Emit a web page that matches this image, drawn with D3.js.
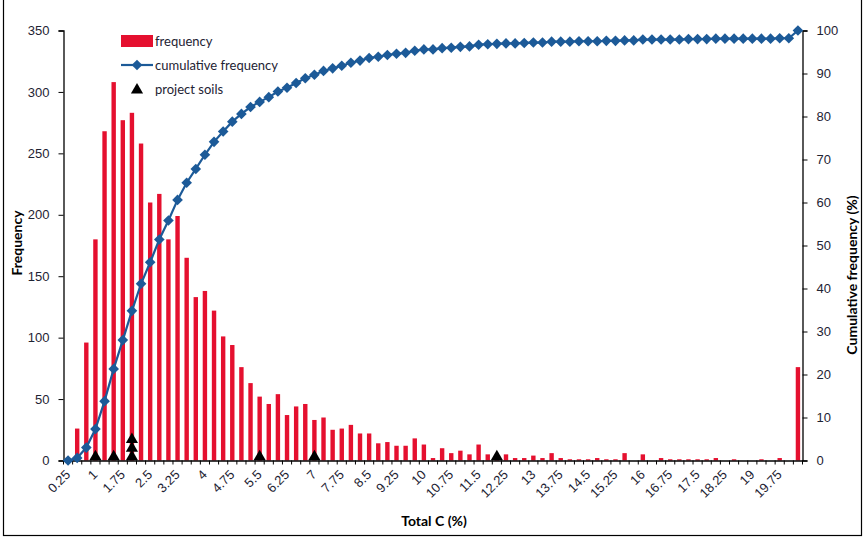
<!DOCTYPE html>
<html>
<head>
<meta charset="utf-8">
<script src="https://cdnjs.cloudflare.com/ajax/libs/d3/7.8.5/d3.min.js"></script>
<style>
  body { margin: 0; background: #fff; }
  svg { display: block; font-family: Lato, "Open Sans", sans-serif; }
</style>
</head>
<body>
<script>
// total C bins (%), last bin is the overflow bin
var bins = ['0.25','0.5','0.75','1','1.25','1.5','1.75','2','2.25','2.5','2.75','3','3.25','3.5','3.75','4',
  '4.25','4.5','4.75','5','5.25','5.5','5.75','6','6.25','6.5','6.75','7','7.25','7.5','7.75','8',
  '8.25','8.5','8.75','9','9.25','9.5','9.75','10','10.25','10.5','10.75','11','11.25','11.5','11.75','12',
  '12.25','12.5','12.75','13','13.25','13.5','13.75','14','14.25','14.5','14.75','15','15.25','15.5','15.75','16',
  '16.25','16.5','16.75','17','17.25','17.5','17.75','18','18.25','18.5','18.75','19','19.25','19.5','19.75','20','More'];

var frequency = [0, 26, 96, 180, 268, 308, 277, 283, 258, 210, 217, 180, 199, 165, 133, 138,
  122, 101, 94, 76, 63, 52, 46, 54, 37, 44, 46, 33, 35, 25, 26, 29,
  22, 22, 14, 15, 12, 12, 18, 13, 2, 10, 6, 8, 5, 13, 5, 3,
  5, 2, 2, 4, 2, 6, 2, 1, 1, 1, 2, 1, 1, 6, 0, 5,
  0, 2, 1, 1, 1, 1, 1, 2, 0, 1, 0, 0, 1, 0, 2, 0, 76];

var cumulative = [0, 0.6, 3.0, 7.3, 13.8, 21.3, 28.0, 34.8, 41.1, 46.1, 51.4, 55.8, 60.6, 64.6, 67.8, 71.1,
  74.1, 76.5, 78.8, 80.6, 82.2, 83.4, 84.5, 85.8, 86.7, 87.8, 88.9, 89.7, 90.6, 91.2, 91.8, 92.5,
  93.0, 93.6, 93.9, 94.3, 94.6, 94.8, 95.3, 95.6, 95.6, 95.9, 96.0, 96.2, 96.3, 96.7, 96.8, 96.9,
  97.0, 97.0, 97.1, 97.2, 97.2, 97.4, 97.4, 97.4, 97.5, 97.5, 97.5, 97.6, 97.6, 97.7, 97.7, 97.9,
  97.9, 97.9, 97.9, 97.9, 98.0, 98.0, 98.0, 98.1, 98.1, 98.1, 98.1, 98.1, 98.1, 98.1, 98.2, 98.2, 100];

// project soils: bin and marker height on the frequency axis
var soilBins = ['1', '1.5', '2', '2', '2', '5.5', '7', '12'];
var soilLevels = [3, 3, 3, 10, 17, 3, 3, 3];

var xLabels = ['0.25','1','1.75','2.5','3.25','4','4.75','5.5','6.25','7','7.75','8.5','9.25','10',
  '10.75','11.5','12.25','13','13.75','14.5','15.25','16','16.75','17.5','18.25','19','19.75'];
var freqTicks = [0, 50, 100, 150, 200, 250, 300, 350];
var cumTicks = [0, 10, 20, 30, 40, 50, 60, 70, 80, 90, 100];

var width = 867, height = 537;
var margin = { left: 63.5, right: 64.5, top: 30.5, bottom: 76.5 };
var innerW = width - margin.left - margin.right;
var innerH = height - margin.top - margin.bottom;

var red = '#e5102f', blue = '#1c5a98', ink = '#1e2333';

var svg = d3.select('body').append('svg').attr('width', width).attr('height', height);

// outer frame
svg.append('rect').attr('x', 3.5).attr('y', -2).attr('width', 858).attr('height', 537.5)
    .attr('fill', 'none').attr('stroke', '#000').attr('stroke-width', 1.2);

var x = d3.scaleBand().domain(bins).range([0, innerW]).padding(0);
var y = d3.scaleLinear().domain([0, 350]).range([innerH, 0]);
var yR = d3.scaleLinear().domain([0, 100]).range([innerH, 0]);
var bw = x.bandwidth();

var g = svg.append('g').attr('transform', 'translate(' + margin.left + ',' + margin.top + ')');

// bars
g.selectAll('rect.bar').data(frequency).enter().append('rect')
    .attr('class', 'bar')
    .attr('x', function(d, i) { return x(bins[i]) + bw / 2 - 2.2; })
    .attr('width', 4.4)
    .attr('y', function(d) { return y(d); })
    .attr('height', function(d) { return innerH - y(d); })
    .attr('fill', red);

// left axis
var yAxis = d3.axisLeft(y).tickValues(freqTicks).tickSize(5).tickPadding(9);
g.append('g').attr('class', 'axis').call(yAxis);

// right axis
var yAxisR = d3.axisRight(yR).tickValues(cumTicks).tickSize(5).tickPadding(9);
g.append('g').attr('class', 'axis').attr('transform', 'translate(' + innerW + ',0)').call(yAxisR);

// bottom axis: labels at every third bin, ticks between bins
var xAxis = d3.axisBottom(x).tickValues(xLabels).tickSize(0).tickPadding(0);
var xg = g.append('g').attr('class', 'axis').attr('transform', 'translate(0,' + innerH + ')').call(xAxis);
xg.selectAll('text')
    .attr('text-anchor', 'end')
    .attr('dy', null)
    .attr('y', 0)
    .attr('transform', 'translate(3,15) rotate(-45)');
xg.selectAll('.tick-b').data(bins.concat(['end'])).enter().append('line')
    .attr('class', 'tick-b')
    .attr('x1', function(d) { return d === 'end' ? innerW : x(d); })
    .attr('x2', function(d) { return d === 'end' ? innerW : x(d); })
    .attr('y1', 0).attr('y2', 4)
    .attr('stroke', '#000');

svg.selectAll('.axis path').attr('stroke', '#000').attr('stroke-width', 1.3);
svg.selectAll('.axis line').attr('stroke', '#000');
svg.selectAll('.axis text').attr('fill', ink).style('font-size', '13px');

// cumulative line
var line = d3.line()
    .x(function(d, i) { return x(bins[i]) + bw / 2; })
    .y(function(d) { return yR(d); });
g.append('path').datum(cumulative).attr('d', line)
    .attr('fill', 'none').attr('stroke', blue).attr('stroke-width', 2.2);

var diamond = d3.symbol().type(d3.symbolDiamond2).size(72);
g.selectAll('path.pt').data(cumulative).enter().append('path')
    .attr('class', 'pt')
    .attr('d', diamond)
    .attr('transform', function(d, i) { return 'translate(' + (x(bins[i]) + bw / 2) + ',' + yR(d) + ')'; })
    .attr('fill', blue);

// project soils
var tri = d3.symbol().type(d3.symbolTriangle).size(64);
g.selectAll('path.soil').data(soilLevels).enter().append('path')
    .attr('class', 'soil')
    .attr('d', tri)
    .attr('transform', function(d, i) { return 'translate(' + (x(soilBins[i]) + bw / 2) + ',' + y(d) + ')'; })
    .attr('fill', '#000');

// legend
var lg = svg.append('g').attr('transform', 'translate(121,0)');
lg.append('rect').attr('x', 0).attr('y', 35).attr('width', 32).attr('height', 12).attr('fill', red);
lg.append('text').attr('x', 34).attr('y', 46).text('frequency');
lg.append('line').attr('x1', 0).attr('x2', 32).attr('y1', 65).attr('y2', 65)
    .attr('stroke', blue).attr('stroke-width', 2.2);
lg.append('path').attr('d', diamond).attr('transform', 'translate(16,65)').attr('fill', blue);
lg.append('text').attr('x', 34).attr('y', 70).text('cumulative frequency');
lg.append('path').attr('d', tri).attr('transform', 'translate(16,90)').attr('fill', '#000');
lg.append('text').attr('x', 34).attr('y', 94).text('project soils');
lg.selectAll('text').attr('fill', ink).style('font-size', '13px');

// axis titles
svg.append('text').attr('transform', 'translate(22,243) rotate(-90)')
    .attr('text-anchor', 'middle').style('font-weight', 'bold').style('font-size', '14px')
    .attr('fill', '#000').text('Frequency');
svg.append('text').attr('transform', 'translate(857,275) rotate(-90)')
    .attr('text-anchor', 'middle').style('font-weight', 'bold').style('font-size', '14px')
    .attr('fill', '#000').text('Cumulative frequency (%)');
svg.append('text').attr('x', 434).attr('y', 526)
    .attr('text-anchor', 'middle').style('font-weight', 'bold').style('font-size', '14px')
    .attr('fill', '#000').text('Total C (%)');
</script>
</body>
</html>
